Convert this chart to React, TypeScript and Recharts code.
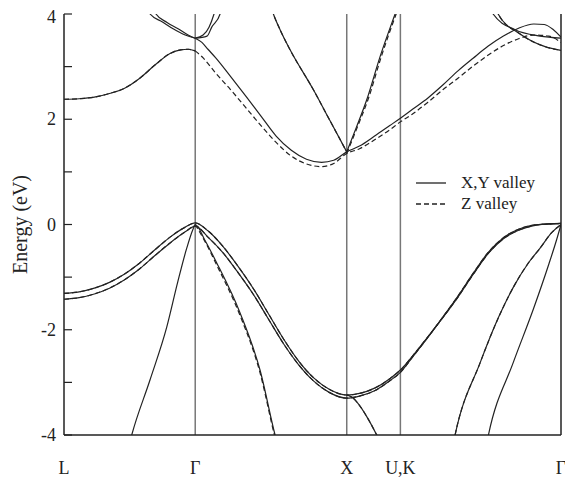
import { Legend, Line, LineChart, ReferenceLine, XAxis, YAxis } from "recharts";

// k-path positions (units of 2π/a): L, Γ, X, U|K, Γ
const K_L = 0;
const K_G = 0.866;
const K_X = 1.866;
const K_U = 2.22;
const K_G2 = 3.28;
const kTicks = [K_L, K_G, K_X, K_U, K_G2];
const kLabels = ["L", "Γ", "X", "U,K", "Γ"];
const eTicks = [-4, -3, -2, -1, 0, 1, 2, 3, 4];

// valence bands (full path L-Γ-X-U-Γ)
const vbK = [0, 0.1, 0.2, 0.3, 0.4, 0.5, 0.6, 0.7, 0.8, 0.866, 0.95, 1.05, 1.15, 1.25, 1.35, 1.45, 1.55, 1.65, 1.75, 1.866, 1.95, 2.05, 2.15, 2.22, 2.3, 2.4, 2.5, 2.6, 2.7, 2.8, 2.9, 3.0, 3.1, 3.2, 3.28];
const vb1E = [-1.31, -1.28, -1.21, -1.1, -0.94, -0.73, -0.48, -0.24, -0.05, 0.03, -0.12, -0.42, -0.8, -1.22, -1.7, -2.18, -2.6, -2.92, -3.13, -3.24, -3.21, -3.11, -2.93, -2.765, -2.5, -2.14, -1.77, -1.38, -0.95, -0.55, -0.27, -0.11, -0.02, 0.01, 0.02];
const vb2E = [-1.42, -1.39, -1.32, -1.21, -1.05, -0.84, -0.59, -0.35, -0.14, -0.03, -0.24, -0.54, -0.92, -1.33, -1.8, -2.27, -2.67, -2.98, -3.19, -3.3, -3.26, -3.16, -2.97, -2.81, -2.52, -2.15, -1.76, -1.36, -0.93, -0.53, -0.25, -0.09, -0.01, 0.01, 0.02];
const vb3K = [0.42, 0.447, 0.568, 0.678, 0.75, 0.81, 0.85, 0.866, 0.93, 1.008, 1.162, 1.294, 1.393, 1.43];
const vb3E = [-4.3, -4.0, -2.95, -1.95, -1.1, -0.45, -0.1, 0.0, -0.3, -0.73, -1.68, -2.77, -4.0, -4.4];
const vb3dK = [0.866, 0.93, 1.008, 1.162, 1.294, 1.393, 1.43];
const vb3dE = [0.0, -0.32, -0.77, -1.73, -2.82, -4.05, -4.45];
const vbXK = [1.866, 1.9, 1.94, 1.998, 2.064, 2.09];
const vbXE = [-3.24, -3.28, -3.4, -3.65, -4.0, -4.15];
const vb4K = [2.56, 2.581, 2.746, 2.87, 2.964, 3.06, 3.142, 3.22, 3.28];
const vb4E = [-4.3, -4.0, -2.63, -1.75, -1.2, -0.75, -0.45, -0.15, 0.0];
const vb5K = [2.78, 2.801, 2.964, 3.096, 3.2, 3.25, 3.28];
const vb5E = [-4.3, -4.0, -2.63, -1.62, -0.75, -0.3, 0.0];

// conduction bands
const cbLK = [0, 0.1, 0.2, 0.3, 0.4, 0.5, 0.6, 0.7, 0.77, 0.82, 0.866];
const cbLE = [2.38, 2.39, 2.42, 2.49, 2.59, 2.78, 3.03, 3.25, 3.32, 3.33, 3.3];
const cb1K = [0.866, 0.91, 0.95, 1.0, 1.1, 1.2, 1.3, 1.4, 1.5, 1.6, 1.7, 1.78, 1.866, 1.95, 2.05, 2.15, 2.22, 2.3, 2.4, 2.5, 2.6, 2.7, 2.8, 2.9, 3.0, 3.1, 3.17, 3.23, 3.28];
const cb1E = [3.54, 3.46, 3.33, 3.17, 2.81, 2.44, 2.06, 1.68, 1.41, 1.24, 1.18, 1.22, 1.38, 1.49, 1.68, 1.88, 2.02, 2.19, 2.4, 2.65, 2.92, 3.16, 3.39, 3.58, 3.73, 3.81, 3.8, 3.7, 3.56];
const cb1dK = [0.866, 0.92, 1.0, 1.1, 1.2, 1.3, 1.4, 1.5, 1.6, 1.7, 1.78, 1.866, 1.95, 2.05, 2.15, 2.22, 2.3, 2.4, 2.5, 2.6, 2.7, 2.8, 2.9, 3.0, 3.1, 3.2, 3.28];
const cb1dE = [3.3, 3.16, 2.88, 2.56, 2.22, 1.88, 1.56, 1.3, 1.15, 1.1, 1.16, 1.35, 1.44, 1.61, 1.8, 1.95, 2.1, 2.32, 2.56, 2.78, 3.01, 3.22, 3.4, 3.53, 3.6, 3.58, 3.46];
const cbTopK = [1.37, 1.382, 1.426, 1.492, 1.646, 1.756, 1.866];
const cbTopE = [4.1, 4.0, 3.7, 3.32, 2.56, 1.97, 1.38];
const cbUpK = [1.866, 1.93, 1.998, 2.086, 2.185, 2.2];
const cbUpE = [1.38, 1.85, 2.37, 3.19, 4.0, 4.12];
const cbUpdK = [1.866, 1.94, 2.006, 2.094, 2.192, 2.21];
const cbUpdE = [1.35, 1.88, 2.37, 3.19, 4.0, 4.14];
const pL1K = [0.55, 0.568, 0.65, 0.72, 0.8, 0.866];
const pL1E = [4.3, 4.0, 3.85, 3.72, 3.6, 3.54];
const pL2K = [0.59, 0.607, 0.68, 0.753, 0.819, 0.866];
const pL2E = [4.3, 4.0, 3.84, 3.72, 3.6, 3.54];
const pR1K = [0.866, 0.918, 0.957, 0.99, 1.0];
const pR1E = [3.54, 3.6, 3.75, 4.0, 4.1];
const pR2K = [0.866, 0.944, 0.975, 1.03, 1.04];
const pR2E = [3.54, 3.58, 3.75, 4.0, 4.1];
const r1K = [2.82, 2.832, 2.977, 3.142, 3.28];
const r1E = [4.1, 4.0, 3.7, 3.58, 3.54];
const r2K = [2.855, 2.865, 3.01, 3.175, 3.28];
const r2E = [4.1, 4.0, 3.62, 3.38, 3.31];

const pts = (k: number[], e: number[]) => k.map((v, i) => ({ k: v, e: e[i] }));

const solidBands = [
  pts(vbK, vb1E), pts(vbK, vb2E), pts(vb3K, vb3E), pts(vbXK, vbXE),
  pts(vb4K, vb4E), pts(vb5K, vb5E), pts(cbLK, cbLE), pts(cb1K, cb1E),
  pts(cbTopK, cbTopE), pts(cbUpK, cbUpE), pts(pL1K, pL1E), pts(pL2K, pL2E),
  pts(pR1K, pR1E), pts(pR2K, pR2E), pts(r1K, r1E), pts(r2K, r2E),
];
const dashedBands = [
  pts(vbK, vb1E), pts(vbK, vb2E), pts(vb3dK, vb3dE), pts(vbXK, vbXE),
  pts(vb4K, vb4E), pts(cbLK, cbLE), pts(cb1dK, cb1dE), pts(cbTopK, cbTopE),
  pts(cbUpdK, cbUpdE), pts(r2K, r2E),
];

const FONT = "'Liberation Serif', 'Times New Roman', serif";
const INK = "#222";

function LeftTick({ x, y, payload }: any) {
  const v = payload.value;
  return (
    <g>
      <line x1={x} x2={x + 8} y1={y} y2={y} stroke={INK} strokeWidth={1.2} />
      {v % 2 === 0 && (
        <text x={x - 8} y={v === 4 ? y + 3 : y} dy={6} textAnchor="end" fontFamily={FONT} fontSize={18} fill={INK}>
          {v}
        </text>
      )}
    </g>
  );
}

function RightTick({ x, y }: any) {
  return <line x1={x - 8} x2={x} y1={y} y2={y} stroke={INK} strokeWidth={1.2} />;
}

function BottomTick({ x, y, index }: any) {
  return (
    <text x={x} y={y + 39} textAnchor="middle" fontFamily={FONT} fontSize={18} fill={INK}>
      {kLabels[index]}
    </text>
  );
}

function EnergyLabel({ viewBox }: any) {
  const cy = viewBox.y + viewBox.height / 2;
  const cx = 20;
  return (
    <text
      x={cx}
      y={cy}
      transform={`rotate(-90 ${cx} ${cy})`}
      textAnchor="middle"
      dominantBaseline="central"
      fontFamily={FONT}
      fontSize={20}
      fill={INK}
    >
      Energy (eV)
    </text>
  );
}

function LegendBox() {
  const row = (dash: string | undefined, label: string) => (
    <div style={{ display: "flex", alignItems: "center", height: 21 }}>
      <svg width={30} height={10} style={{ marginRight: 15 }}>
        <line x1={0} x2={30} y1={5} y2={5} stroke={INK} strokeWidth={1.3} strokeDasharray={dash} />
      </svg>
      <span style={{ fontFamily: FONT, fontSize: 17, color: INK }}>{label}</span>
    </div>
  );
  return (
    <div>
      {row(undefined, "X,Y valley")}
      {row("5 3", "Z valley")}
    </div>
  );
}

export default function App() {
  return (
    <div style={{ position: "absolute", left: 0, top: 0, width: 565, height: 482, background: "#fff" }}>
      <LineChart width={565} height={482} margin={{ top: 14, right: 3, bottom: 0, left: 4 }}>
        <XAxis
          xAxisId="b"
          type="number"
          dataKey="k"
          domain={[K_L, K_G2]}
          allowDataOverflow
          ticks={kTicks}
          interval={0}
          height={47}
          tickSize={0}
          tickMargin={0}
          tickLine={false}
          tick={<BottomTick />}
          axisLine={{ stroke: INK, strokeWidth: 1.5 }}
        />
        <XAxis
          xAxisId="t"
          orientation="top"
          type="number"
          dataKey="k"
          domain={[K_L, K_G2]}
          height={0}
          tick={false}
          tickLine={false}
          axisLine={{ stroke: INK, strokeWidth: 1.5 }}
        />
        <YAxis
          yAxisId="l"
          type="number"
          domain={[-4, 4]}
          allowDataOverflow
          ticks={eTicks}
          interval={0}
          width={60}
          tickSize={0}
          tickMargin={0}
          tickLine={false}
          tick={<LeftTick />}
          axisLine={{ stroke: INK, strokeWidth: 1.5 }}
          label={<EnergyLabel />}
        />
        <YAxis
          yAxisId="r"
          orientation="right"
          type="number"
          domain={[-4, 4]}
          ticks={eTicks}
          interval={0}
          width={1}
          tickSize={0}
          tickMargin={0}
          tickLine={false}
          tick={<RightTick />}
          axisLine={{ stroke: INK, strokeWidth: 1.5 }}
        />
        {[K_G, K_X, K_U].map((k) => (
          <ReferenceLine key={k} x={k} xAxisId="b" yAxisId="l" stroke="#777" strokeWidth={1.5} />
        ))}
        {dashedBands.map((d, i) => (
          <Line
            key={"d" + i}
            data={d}
            dataKey="e"
            xAxisId="b"
            yAxisId="l"
            type="monotone"
            dot={false}
            stroke={INK}
            strokeWidth={1.2}
            strokeDasharray="5 3"
            legendType="none"
            isAnimationActive={false}
          />
        ))}
        {solidBands.map((d, i) => (
          <Line
            key={"s" + i}
            data={d}
            dataKey="e"
            xAxisId="b"
            yAxisId="l"
            type="monotone"
            dot={false}
            stroke={INK}
            strokeWidth={1.2}
            legendType="none"
            isAnimationActive={false}
          />
        ))}
        <Legend
          layout="horizontal"
          verticalAlign="middle"
          align="center"
          content={<LegendBox />}
          wrapperStyle={{ left: 416, top: 172, width: 140 }}
        />
      </LineChart>
    </div>
  );
}
